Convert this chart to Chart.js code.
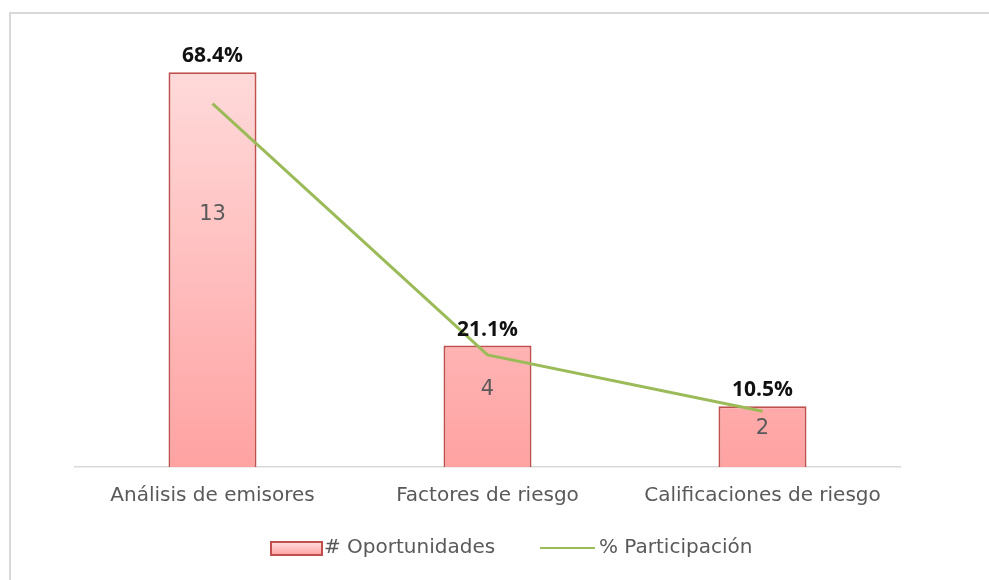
<!DOCTYPE html>
<html>
<head>
<meta charset="utf-8">
<script src="https://cdn.jsdelivr.net/npm/chart.js@4/dist/chart.umd.min.js"></script>
<style>
    body { margin: 0; background: #fff; }
    #wrap { position: relative; width: 989px; height: 580px; overflow: hidden; }
    #frame { position: absolute; left: 9px; top: 12px; width: 1200px; height: 800px;
             border-left: 2px solid #d9d9d9; border-top: 2px solid #d9d9d9; }
    #chart { position: absolute; left: 0; top: 0; }
</style>
</head>
<body>
<div id="wrap">
    <div id="frame"></div>
    <canvas id="chart" width="989" height="580"></canvas>
</div>
<script>
const categories = ['Análisis de emisores', 'Factores de riesgo', 'Calificaciones de riesgo'];
const oportunidades = [13, 4, 2];
const participacion = [68.4, 21.1, 10.5];
const seriesNames = ['# Oportunidades', '% Participación'];

const FONT = '"DejaVu Sans", sans-serif';
const BOLD_FONT = '"Open Sans", "DejaVu Sans", sans-serif';
const GREY = '#595959';

function barGradient(context) {
    const chart = context.chart;
    const { ctx, chartArea } = chart;
    if (!chartArea) return '#ffbcbc';
    const el = context.element;
    const top = el && el.y ? el.y : chartArea.top;
    const base = el && el.base ? el.base : chartArea.bottom;
    const g = ctx.createLinearGradient(0, top, 0, base);
    g.addColorStop(0, '#ffdede');
    g.addColorStop(1, '#ffa2a2');
    return g;
}

// value labels: percentage above each bar, count inside it
const labelPlugin = {
    id: 'valueLabels',
    afterDatasetsDraw(chart) {
        const { ctx } = chart;
        const bars = chart.getDatasetMeta(0).data;
        ctx.save();
        ctx.textAlign = 'center';
        bars.forEach((bar, i) => {
            ctx.font = 'bold 21px ' + BOLD_FONT;
            ctx.fillStyle = '#111';
            ctx.textBaseline = 'alphabetic';
            ctx.fillText(participacion[i].toFixed(1) + '%', bar.x, bar.y - 10);

            ctx.font = '21px ' + FONT;
            ctx.fillStyle = GREY;
            ctx.textBaseline = 'middle';
            ctx.fillText(String(oportunidades[i]), bar.x, bar.y + (bar.base - bar.y) * 0.36);
        });
        ctx.restore();
    }
};

// bottom legend, drawn by hand to match box sizes
const legendPlugin = {
    id: 'bottomLegend',
    afterDraw(chart) {
        const { ctx } = chart;
        const y = 548;
        ctx.save();
        ctx.font = '20px ' + FONT;
        ctx.textBaseline = 'middle';
        ctx.textAlign = 'left';

        const g = ctx.createLinearGradient(0, y - 6, 0, y + 7);
        g.addColorStop(0, '#ffdede');
        g.addColorStop(1, '#ffa2a2');
        ctx.fillStyle = g;
        ctx.fillRect(271, y - 6, 51, 13);
        ctx.strokeStyle = '#c0504d';
        ctx.lineWidth = 2;
        ctx.strokeRect(271, y - 6, 51, 13);
        ctx.fillStyle = GREY;
        ctx.fillText(seriesNames[0], 324, y);

        ctx.strokeStyle = '#9bbb59';
        ctx.lineWidth = 2;
        ctx.beginPath();
        ctx.moveTo(540, y);
        ctx.lineTo(595, y);
        ctx.stroke();
        ctx.fillText(seriesNames[1], 599, y);
        ctx.restore();
    }
};

new Chart(document.getElementById('chart'), {
    data: {
        labels: categories,
        datasets: [
            {
                type: 'bar',
                label: seriesNames[0],
                data: oportunidades,
                yAxisID: 'y',
                order: 1,
                backgroundColor: barGradient,
                borderColor: '#c0504d',
                borderWidth: 2,
                barPercentage: 0.32,
                categoryPercentage: 1
            },
            {
                type: 'line',
                label: seriesNames[1],
                data: participacion,
                yAxisID: 'y2',
                order: 0,
                borderColor: '#9bbb59',
                borderWidth: 3,
                pointRadius: 0,
                tension: 0
            }
        ]
    },
    options: {
        responsive: false,
        animation: false,
        layout: { padding: { left: 75, right: 89, top: 42, bottom: 55 } },
        plugins: {
            legend: { display: false },
            tooltip: { enabled: false }
        },
        scales: {
            x: {
                grid: { display: false, drawTicks: false },
                border: { display: true, color: '#d9d9d9', width: 1.5 },
                ticks: { color: GREY, font: { family: FONT, size: 20 }, padding: 17 }
            },
            y: { display: false, min: 0, max: 14 },
            y2: { display: false, min: 0, max: 80 }
        }
    },
    plugins: [labelPlugin, legendPlugin]
});
</script>
</body>
</html>
